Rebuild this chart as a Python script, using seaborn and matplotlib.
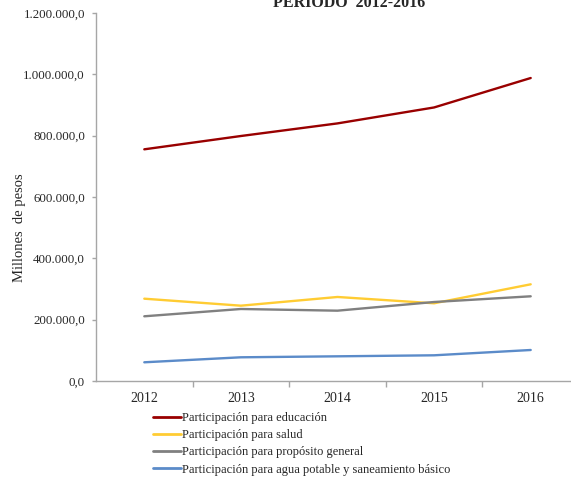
import matplotlib
matplotlib.use("Agg")
import matplotlib.pyplot as plt
from matplotlib.ticker import FuncFormatter, FixedLocator
import seaborn as sns
import pandas as pd

years = ["2012", "2013", "2014", "2015", "2016"]
educacion = [755500, 798900, 840000, 892000, 988000]
salud = [268400, 245600, 274000, 253400, 315300]
proposito_general = [211000, 234800, 229300, 257600, 276200]
agua_potable = [61000, 77300, 80500, 83800, 101100]

series_names = [
    "Participación para educación",
    "Participación para salud",
    "Participación para propósito general",
    "Participación para agua potable y saneamiento básico",
]
series_values = [educacion, salud, proposito_general, agua_potable]
colors = ["#990000", "#FFCC33", "#808080", "#5B8BC9"]

df = pd.DataFrame(
    [(y, name, v) for name, vals in zip(series_names, series_values) for y, v in zip(years, vals)],
    columns=["Año", "Serie", "Valor"],
)

sns.set_theme(style="white")
plt.rcParams["font.family"] = ["Liberation Serif", "DejaVu Serif"]

fig = plt.figure(figsize=(5.71, 4.78), dpi=100)
W, H = 571, 478
left, right, top, bottom = 96, 579, 13, 381
ax = fig.add_axes([left / W, 1 - bottom / H, (right - left) / W, (bottom - top) / H])

sns.lineplot(data=df, x="Año", y="Valor", hue="Serie", palette=colors,
             linewidth=1.7, ax=ax, legend=False, sort=False)

ax.set_xlim(-0.5, 4.5)
ax.set_ylim(0, 1200000)
ax.yaxis.set_major_locator(FixedLocator([0, 200000, 400000, 600000, 800000, 1000000, 1200000]))

def fmt(v, pos):
    s = f"{v:,.1f}"
    return s.replace(",", "X").replace(".", ",").replace("X", ".")

ax.yaxis.set_major_formatter(FuncFormatter(fmt))
ax.set_xticks(range(len(years)))
ax.set_xticklabels(years)
ax.xaxis.set_minor_locator(FixedLocator([0.5, 1.5, 2.5, 3.5]))

for side in ["top", "right"]:
    ax.spines[side].set_visible(False)
for side in ["left", "bottom"]:
    ax.spines[side].set_color("#A6A6A6")
    ax.spines[side].set_linewidth(1.0)

ax.tick_params(axis="y", which="major", direction="out", length=3, color="#A6A6A6",
               width=1, labelsize=9.3, pad=5, left=True)
ax.tick_params(axis="x", which="major", length=0, labelsize=10, pad=8, bottom=True)
ax.tick_params(axis="x", which="minor", direction="out", length=4, color="#A6A6A6",
               width=1, bottom=True)
ax.set_xlabel("")
ax.set_ylabel("")
ax.grid(False)

fig.text(20 / W, 1 - 228 / H, "Millones  de pesos", rotation=90, ha="center",
         va="center", fontsize=10.5)
fig.text(349 / W, 1 - 3 / H, "PERIODO  2012-2016", ha="center", va="center",
         fontsize=11.5, fontweight="bold")

handles = [plt.Line2D([], [], color=c, linewidth=2.0) for c in colors]
fig.legend(handles, series_names, loc="upper left",
           bbox_to_anchor=(153 / W, 1 - 412 / H), frameon=False, fontsize=9,
           handlelength=2.2, handletextpad=0.15, labelspacing=0.42, borderpad=0,
           borderaxespad=0)

fig.savefig("out.png", dpi=100, facecolor="white")
